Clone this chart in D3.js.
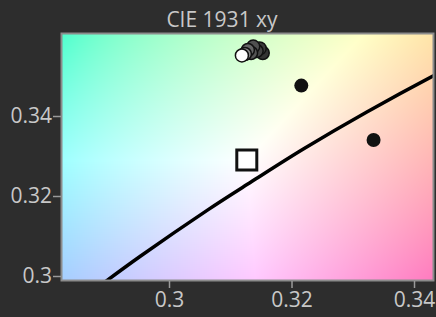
<!DOCTYPE html>
<html>
<head>
<meta charset="utf-8">
<script src="https://cdn.jsdelivr.net/npm/d3@7"></script>
<style>
  html, body { margin: 0; padding: 0; background: #2d2d2d; }
  svg { display: block; }
  .tick text { fill: #c8c8c8; }
  .tick line, .domain { stroke: #9a9a9a; }
</style>
</head>
<body>
<svg id="chart"></svg>
<script>
// Chart data
const chartTitle = "CIE 1931 xy";
const xTicks = [0.30, 0.32, 0.34];
const yTicks = [0.30, 0.32, 0.34];

// Planckian locus points (x, y), from 9000K down to 4500K
const locusX = [0.2870, 0.2952, 0.3064, 0.3135, 0.3220, 0.3323, 0.3451, 0.3607];
const locusY = [0.2956, 0.3048, 0.3166, 0.3236, 0.3318, 0.3410, 0.3516, 0.3635];

// Measured points (black dots)
const dotX = [0.3216, 0.3334];
const dotY = [0.3476, 0.3340];

// Cluster of near-overlapping samples, back to front
const clusterX = [0.31530, 0.31480, 0.31430, 0.31375, 0.31340, 0.31288, 0.31239, 0.31190];
const clusterY = [0.35575, 0.35690, 0.35625, 0.35735, 0.35575, 0.35650, 0.35550, 0.35513];
const clusterFill = ["#333", "#3a3a3a", "#444", "#505050", "#555", "#666", "#8a8a8a", "#ffffff"];

// White point (D65)
const whiteX = [0.3127];
const whiteY = [0.3290];

// Layout
const W = 436, H = 317;
const margin = { top: 34, right: 3, bottom: 37, left: 62 },
    width = W - margin.left - margin.right,
    height = H - margin.top - margin.bottom;

const svg = d3.select("#chart").attr("width", W).attr("height", H);

const x = d3.scaleLinear().domain([0.28253, 0.3431]).range([0, width]);
const y = d3.scaleLinear().domain([0.299, 0.3605]).range([height, 0]);

const g = svg.append("g").attr("transform", `translate(${margin.left},${margin.top})`);

// Background: chromaticity colour of each pixel (xy -> XYZ -> sRGB)
const canvas = document.createElement("canvas");
canvas.width = width;
canvas.height = height;
const ctx = canvas.getContext("2d");
const img = ctx.createImageData(width, height);
const k = 1.65; // push saturation so the pastel field reads like the original
const gam = v => {
    v = Math.max(0, Math.min(1, v));
    return v <= 0.0031308 ? 12.92 * v : 1.055 * Math.pow(v, 1 / 2.4) - 0.055;
};
for (let j = 0; j < height; j++) {
    const cy = y.invert(j + 0.5);
    for (let i = 0; i < width; i++) {
        const cx = x.invert(i + 0.5);
        const X = cx / cy, Y = 1, Z = (1 - cx - cy) / cy;
        let r = 3.2406 * X - 1.5372 * Y - 0.4986 * Z;
        let gg = -0.9689 * X + 1.8758 * Y + 0.0415 * Z;
        let b = 0.0557 * X - 0.2040 * Y + 1.0570 * Z;
        const m = Math.max(r, gg, b);
        r = 1 - k * (1 - r / m);
        gg = 1 - k * (1 - gg / m);
        b = 1 - k * (1 - b / m);
        const p = (j * width + i) * 4;
        img.data[p] = Math.round(gam(r) * 255);
        img.data[p + 1] = Math.round(gam(gg) * 255);
        img.data[p + 2] = Math.round(gam(b) * 255);
        img.data[p + 3] = 255;
    }
}
ctx.putImageData(img, 0, 0);

g.append("image")
    .attr("width", width)
    .attr("height", height)
    .attr("href", canvas.toDataURL());

svg.append("defs").append("clipPath").attr("id", "plotClip")
    .append("rect").attr("width", width).attr("height", height);

const plot = g.append("g").attr("clip-path", "url(#plotClip)");

// Planckian locus
const locus = locusX.map((d, i) => [d, locusY[i]]);
plot.append("path")
    .datum(locus)
    .attr("fill", "none")
    .attr("stroke", "#000")
    .attr("stroke-width", 3.5)
    .attr("d", d3.line().x(d => x(d[0])).y(d => y(d[1])).curve(d3.curveCatmullRom));

// White point square
const sq = 20;
plot.selectAll(".white")
    .data(whiteX.map((d, i) => [d, whiteY[i]]))
    .enter().append("rect")
    .attr("x", d => x(d[0]) - sq / 2)
    .attr("y", d => y(d[1]) - sq / 2)
    .attr("width", sq)
    .attr("height", sq)
    .attr("fill", "#fff")
    .attr("fill-opacity", 0.7)
    .attr("stroke", "#111")
    .attr("stroke-width", 3);

// Black dots
plot.selectAll(".dot")
    .data(dotX.map((d, i) => [d, dotY[i]]))
    .enter().append("circle")
    .attr("cx", d => x(d[0]))
    .attr("cy", d => y(d[1]))
    .attr("r", 7)
    .attr("fill", "#111");

// Cluster
plot.selectAll(".cl")
    .data(clusterX.map((d, i) => [d, clusterY[i], clusterFill[i]]))
    .enter().append("circle")
    .attr("cx", d => x(d[0]))
    .attr("cy", d => y(d[1]))
    .attr("r", 6.5)
    .attr("fill", d => d[2])
    .attr("stroke", "#111")
    .attr("stroke-width", 1.5);

// Frame
g.append("rect")
    .attr("x", -0.5).attr("y", -0.5)
    .attr("width", width + 1).attr("height", height + 1)
    .attr("fill", "none")
    .attr("stroke", "#8c8c8c")
    .attr("stroke-width", 2);

// Axes
const axisFont = "'Open Sans', sans-serif";
const xAxis = g.append("g")
    .attr("transform", `translate(0,${height + 1})`)
    .call(d3.axisBottom(x).tickValues(xTicks).tickSize(7).tickPadding(4).tickFormat(d3.format("")));
const yAxis = g.append("g")
    .attr("transform", "translate(-1,0)")
    .call(d3.axisLeft(y).tickValues(yTicks).tickSize(8).tickPadding(1).tickFormat(d3.format("")));
[xAxis, yAxis].forEach(a => {
    a.select(".domain").remove();
    a.selectAll("text").style("font-family", axisFont).style("font-size", "21px");
    a.selectAll("line").attr("stroke", "#9a9a9a").attr("stroke-width", 1.5);
});

// Title
svg.append("text")
    .attr("x", 222)
    .attr("y", 27)
    .attr("text-anchor", "middle")
    .style("font-family", axisFont)
    .style("font-size", "21px")
    .attr("fill", "#c8c8c8")
    .text(chartTitle);
</script>
</body>
</html>
